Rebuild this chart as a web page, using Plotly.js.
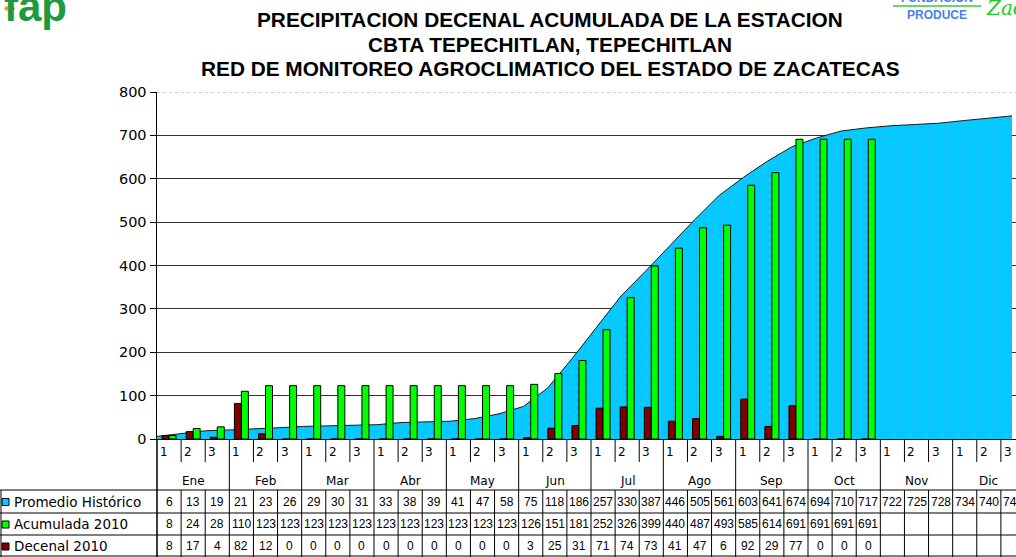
<!DOCTYPE html>
<html><head><meta charset="utf-8">
<script src="https://cdn.plot.ly/plotly-3.0.1.min.js"></script>
<style>html,body{margin:0;padding:0;overflow:hidden;background:#fff}#chart{width:1040px;height:557px}</style>
</head><body><div id="chart"></div>
<script>
// ---------- DATA ----------
const months = ['Ene','Feb','Mar','Abr','May','Jun','Jul','Ago','Sep','Oct','Nov','Dic'];
const decades = ['1','2','3'];
const promedio  = [6,13,19,21,23,26,29,30,31,33,38,39,41,47,58,75,118,186,257,330,387,446,505,561,603,641,674,694,710,717,722,725,728,734,740,745];
const acumulada = [8,24,28,110,123,123,123,123,123,123,123,123,123,123,123,126,151,181,252,326,399,440,487,493,585,614,691,691,691,691,null,null,null,null,null,null];
const decenal   = [8,17,4,82,12,0,0,0,0,0,0,0,0,0,0,3,25,31,71,74,73,41,47,6,92,29,77,0,0,0,null,null,null,null,null,null];
const seriesNames = ['Promedio Histórico','Acumulada 2010','Decenal 2010'];
const yTicks = [0,100,200,300,400,500,600,700,800];
const titleLines = ['PRECIPITACION DECENAL ACUMULADA DE LA ESTACION','CBTA TEPECHITLAN, TEPECHITLAN','RED DE MONITOREO AGROCLIMATICO DEL ESTADO DE ZACATECAS'];

// ---------- STYLE / GEOMETRY ----------
const colors = {prom:'#00ccff', acu:'#00ff00', dec:'#800000'};
const W=1040, H=557, L=157, R=15, T=92, B=118;
const PW=W-L-R, PH=H-T-B;
const fx = p => (p-L)/PW;          // page px -> paper x
const fy = p => (T+PH-p)/PH;       // page px -> paper y
const AREA_END_PX = 1012;
const idx = promedio.map((_,i)=>i);
const nCat = idx.length;

const traces = [
  {type:'scatter', mode:'lines', x:idx, y:promedio, xaxis:'x', yaxis:'y', name:seriesNames[0],
   fill:'tozeroy', fillcolor:colors.prom, line:{color:'#1a1a1a', width:1},
   fillpattern:{shape:'.', bgcolor:colors.prom, fgcolor:'#3aa8f5', size:8, solidity:0.12, fillmode:'replace'},
   hoverinfo:'skip'},
  {type:'bar', x:idx, y:decenal, xaxis:'x2', yaxis:'y', name:seriesNames[2],
   marker:{color:colors.dec, line:{color:'#000', width:1}}},
  {type:'bar', x:idx, y:acumulada, xaxis:'x2', yaxis:'y', name:seriesNames[1],
   marker:{color:colors.acu, line:{color:'#000', width:1}}}
];

const annotations = [];
const shapes = [];
const tfont = {family:'Liberation Sans, Arial, sans-serif', size:20.8, color:'#000'};
const titleY = [19.5, 44, 68.5];
titleLines.forEach((t,k)=>annotations.push({xref:'paper', yref:'paper', x:fx(550), y:fy(titleY[k]),
  xanchor:'center', yanchor:'middle', showarrow:false, text:'<b>'+t+'</b>', font:tfont}));

// header rows
const hfont = {family:'DejaVu Sans, sans-serif', size:12, color:'#000'};
idx.forEach(i=>annotations.push({xref:'x2', yref:'paper', x:i-0.5, y:fy(452), xanchor:'left', yanchor:'middle',
  xshift:1, showarrow:false, text:decades[i%3], font:hfont}));
months.forEach((m,k)=>annotations.push({xref:'x2', yref:'paper', x:3*k+1, y:fy(481), xanchor:'center', yanchor:'middle',
  showarrow:false, text:m, font:hfont}));

// data rows
const rowTop = [490, 513, 535];
const rowBot = [513, 535, 557];
const rows = [promedio, acumulada, decenal];
const rowColors = [colors.prom, colors.acu, colors.dec];
const nfont = {family:'Liberation Sans, Arial, sans-serif', size:12, color:'#000'};
const lfont = {family:'DejaVu Sans, sans-serif', size:13.5, color:'#000'};
rows.forEach((vals,r)=>{
  const cy = (rowTop[r]+rowBot[r])/2;
  vals.forEach((v,i)=>{ if(v!==null) annotations.push({xref:'x2', yref:'paper', x:i, y:fy(cy),
    xanchor:'center', yanchor:'middle', showarrow:false, text:String(v), font:nfont}); });
  annotations.push({xref:'paper', yref:'paper', x:fx(12), y:fy(cy), xanchor:'left', yanchor:'middle',
    showarrow:false, text:seriesNames[r], font:lfont});
  shapes.push({type:'rect', xref:'paper', yref:'paper', x0:fx(2), x1:fx(9), y0:fy(cy-3), y1:fy(cy+4),
    fillcolor:rowColors[r], line:{color:'#000', width:1}});
});

// table lines
const line = {color:'#000', width:1};
[490,513,535,556].forEach(p=>shapes.push({type:'line', xref:'paper', yref:'paper', x0:fx(0), x1:1, y0:fy(p), y1:fy(p), line}));
shapes.push({type:'line', xref:'paper', yref:'paper', x0:fx(1), x1:fx(1), y0:fy(490), y1:fy(557), line});
shapes.push({type:'line', xref:'paper', yref:'paper', x0:0, x1:0, y0:fy(439), y1:fy(557), line:{color:'#000', width:1.5}});
for(let b=1;b<nCat;b++){
  shapes.push({type:'line', xref:'x2', yref:'paper', x0:b-0.5, x1:b-0.5, y0:fy(490), y1:fy(557), line});
  shapes.push({type:'line', xref:'x2', yref:'paper', x0:b-0.5, x1:b-0.5, y0:fy(439), y1:fy(b%3===0?490:462), line});
}
// top gridline (800) drawn light
shapes.push({type:'line', xref:'paper', yref:'y', x0:0, x1:1, y0:800, y1:800, line:{color:'#fff', width:2}});
shapes.push({type:'line', xref:'paper', yref:'y', x0:0, x1:1, y0:800, y1:800, line:{color:'#a0a0a0', width:1, dash:'dot'}});

// logos
annotations.push({xref:'paper', yref:'paper', x:fx(2), y:fy(6), xanchor:'left', yanchor:'middle', showarrow:false,
  text:'<b>fap</b>', font:{family:'Liberation Sans, Arial, sans-serif', size:42, color:'#1e9a3e'}});
shapes.push({type:'circle', xref:'paper', yref:'paper', x0:fx(4), x1:fx(15), y0:fy(6), y1:fy(11), fillcolor:'#f0a020', line:{width:0}});
annotations.push({xref:'paper', yref:'paper', x:fx(937), y:fy(-2), xanchor:'center', yanchor:'middle', showarrow:false,
  text:'<b>FUNDACION</b>', font:{family:'Liberation Sans, Arial, sans-serif', size:12, color:'#4a80e8'}});
shapes.push({type:'line', xref:'paper', yref:'paper', x0:fx(893), x1:fx(981), y0:fy(6), y1:fy(6), line:{color:'#33cc33', width:1.5}});
annotations.push({xref:'paper', yref:'paper', x:fx(937), y:fy(15), xanchor:'center', yanchor:'middle', showarrow:false,
  text:'<b>PRODUCE</b>', font:{family:'Liberation Sans, Arial, sans-serif', size:12, color:'#4a80e8'}});
annotations.push({xref:'paper', yref:'paper', x:fx(984), y:fy(8), xanchor:'left', yanchor:'middle', showarrow:false,
  text:'<i>Zac</i>', font:{family:'DejaVu Serif, serif', size:20, color:'#22cc22'}});

const layout = {
  width:W, height:H, margin:{l:L, r:R, t:T, b:B, pad:0},
  paper_bgcolor:'#fff', plot_bgcolor:'#fff', showlegend:false,
  barmode:'group', bargap:0.42, bargroupgap:0,
  xaxis:{range:[0,(nCat-1)*PW/(AREA_END_PX-L)], showticklabels:false, showgrid:false, zeroline:false,
         showline:true, linecolor:'#000', linewidth:1, ticks:'', fixedrange:true},
  xaxis2:{overlaying:'x', range:[-0.5,nCat-0.5], showticklabels:false, showgrid:false, zeroline:false,
          showline:false, ticks:'', fixedrange:true},
  yaxis:{range:[0,800], tickvals:yTicks, ticktext:yTicks.map(String), ticks:'outside', ticklen:6, tickcolor:'#000',
         showline:true, linecolor:'#000', linewidth:1.5, gridcolor:'#333333', gridwidth:1, zeroline:false,
         tickfont:{family:'DejaVu Sans, sans-serif', size:14.5, color:'#000'}, fixedrange:true},
  annotations, shapes
};
Plotly.newPlot('chart', traces, layout, {displayModeBar:false, staticPlot:true});
</script></body></html>
